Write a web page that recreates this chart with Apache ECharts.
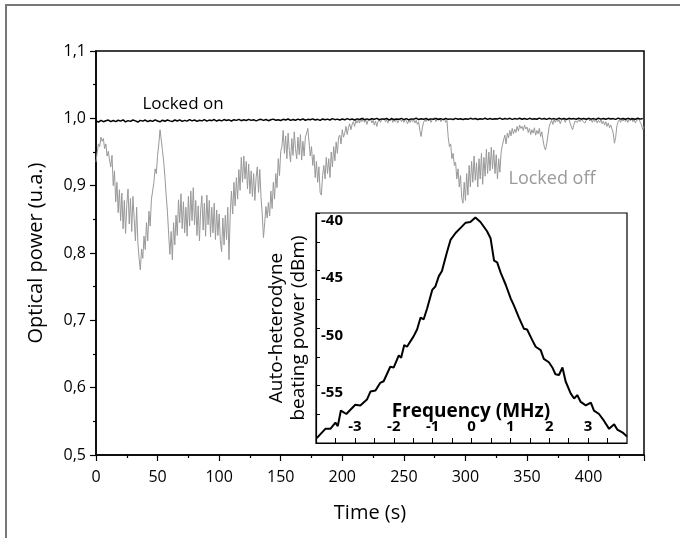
<!DOCTYPE html>
<html><head><meta charset="utf-8">
<script src="https://cdn.jsdelivr.net/npm/echarts@6/dist/echarts.min.js"></script>
<style>html,body{margin:0;padding:0;background:#fff}#c{width:680px;height:538px}</style>
</head><body><div id="c"></div>
<script>
const FONT = '"Open Sans", "Noto Sans", sans-serif';

// Main panel: optical power vs time (s)
const offStep = 1; // seconds between "Locked off" samples
const lockedOff = [
0.935,0.95,0.962,0.958,0.972,0.966,
0.97,0.955,0.962,0.944,0.951,0.938,
0.928,0.945,0.9,0.922,0.876,0.905,0.86,0.894,
0.848,0.889,0.836,0.878,0.829,0.872,0.895,0.843,0.881,0.832,0.884,0.851,0.818,0.868,
0.815,0.792,0.775,0.806,0.792,0.825,
0.805,0.845,0.818,0.862,0.84,0.88,
0.892,0.905,0.925,0.918,0.945,0.962,0.983,
0.968,0.952,0.935,0.912,0.885,0.862,
0.828,0.798,0.832,0.79,0.845,0.812,
0.856,0.826,0.879,0.845,0.888,0.836,
0.876,0.83,0.868,0.825,0.884,0.84,0.892,0.848,0.897,0.842,
0.878,0.826,0.87,0.818,0.864,0.885,0.834,0.874,0.825,0.886,
0.842,0.878,0.824,0.868,0.83,0.874,0.82,0.864,0.826,0.858,
0.818,0.802,0.852,0.812,0.856,0.82,0.868,0.79,
0.858,0.892,0.858,0.905,0.87,0.912,0.88,0.924,0.893,0.942,0.905,0.944,
0.91,0.936,0.895,0.932,0.888,0.922,0.884,0.918,0.878,0.912,0.928,0.89,0.924,0.882,
0.858,0.823,0.845,0.869,0.852,0.875,
0.855,0.892,0.866,0.905,0.88,0.918,0.897,0.94,0.915,0.951,
0.958,0.982,0.948,0.974,0.94,0.978,0.952,0.935,0.97,0.945,
0.98,0.955,0.94,0.972,0.946,0.976,0.938,0.966,0.944,0.972,0.978,0.985,
0.965,0.944,0.958,0.93,0.946,0.912,0.936,0.905,0.928,0.89,0.886,
0.915,0.93,0.91,0.942,0.918,0.94,0.912,0.95,0.928,0.958,0.937,0.965,0.948,0.972,
0.975,0.962,0.983,0.972,0.978,0.988,0.976,0.986,0.992,0.983,0.991,0.995,0.988,0.997,0.993,
0.998,0.993,0.999,0.995,1.001,0.994,0.998,0.991,0.997,0.995,
1.0,0.993,0.997,0.99,0.996,0.988,0.995,0.999,0.994,0.998,
0.996,1.0,0.995,0.998,0.993,0.999,0.996,1.001,0.994,0.998,
0.995,0.999,0.993,0.997,1.0,0.995,0.998,0.994,0.999,0.996,
0.992,0.997,0.994,0.999,0.995,0.998,0.993,0.997,0.991,0.995,
0.982,0.973,0.986,0.994,0.998,
0.995,0.999,0.996,1.0,0.994,0.998,0.996,1.001,0.995,0.999,0.997,1.0,0.995,0.998,0.996,0.999,0.994,0.997,
0.972,0.958,0.962,0.94,0.948,0.93,0.935,0.91,0.925,0.898,0.915,0.882,0.874,
0.905,0.878,0.918,0.886,0.93,0.898,0.936,0.905,0.944,0.908,0.934,0.898,0.94,0.91,0.948,0.902,
0.942,0.914,0.954,0.918,0.95,0.922,0.957,0.925,0.953,0.918,0.946,0.91,0.94,0.92,0.95,0.96,
0.968,0.975,0.962,0.978,0.971,0.982,0.974,0.985,0.977,0.984,0.979,0.988,0.981,0.99,0.985,
0.988,0.982,0.99,0.984,0.987,0.979,0.985,0.976,0.983,0.978,0.986,0.975,0.982,0.977,0.985,0.973,0.98,0.968,
0.958,0.953,0.962,0.975,0.988,
0.993,0.997,0.991,0.998,0.994,0.999,0.995,0.998,0.992,0.997,0.995,1.0,0.994,0.998,0.996,0.999,0.993,
0.987,0.983,0.99,0.996,
0.998,0.994,0.999,0.995,1.0,0.996,0.998,0.993,0.997,0.995,
1.0,0.996,0.999,0.994,0.998,0.995,0.999,0.993,0.997,0.994,
0.998,0.992,0.996,0.99,0.995,0.988,0.993,0.986,0.99,0.984,
0.978,0.963,0.972,0.989,0.995,
0.998,0.994,0.999,0.996,1.0,0.995,0.998,0.994,0.999,0.996,1.001,0.995,0.998,0.993,0.997,0.995,0.999,0.994,0.99,0.983,0.988
];
const onStep = 2; // seconds between "Locked on" samples
const lockedOn = [
0.996,0.9945,0.997,0.995,0.9965,0.9975,0.995,0.9968,0.9952,0.9972,
0.9958,0.9978,0.9948,0.9966,0.9955,0.9975,0.9962,0.9945,0.997,0.9958,
0.9975,0.995,0.9968,0.9955,0.9978,0.996,0.9948,0.9972,0.9957,0.9975,
0.9962,0.9952,0.9976,0.996,0.9978,0.9955,0.997,0.9958,0.998,0.9962,
0.9975,0.9955,0.9972,0.9962,0.998,0.9958,0.9974,0.9965,0.9982,0.996,
0.9975,0.9962,0.9982,0.9968,0.9978,0.996,0.998,0.997,0.9985,0.9965,
0.9978,0.9968,0.9985,0.997,0.998,0.9962,0.9978,0.9985,0.997,0.9982,
0.9965,0.9978,0.9988,0.9972,0.998,0.9968,0.9985,0.9975,0.999,0.997,
0.9982,0.9972,0.9988,0.9975,0.9992,0.9972,0.9985,0.9978,0.9992,0.9975,
0.9985,0.997,0.999,0.9978,0.9988,0.9975,0.9995,0.998,0.9988,0.9976,
0.999,0.9978,0.9995,0.998,0.999,0.9975,0.9992,0.9982,0.9998,0.998,
0.9992,0.9978,0.9995,0.9985,1.0,0.998,0.9992,0.9985,0.9998,0.9978,
0.9995,0.9982,0.999,0.9985,1.0,0.998,0.9995,0.9978,0.9992,0.9988,
1.0002,0.9982,0.9995,0.9985,0.9998,0.998,0.9992,0.9985,1.0,0.9982,
0.9995,0.998,0.9998,0.9985,0.9992,0.9982,1.0,0.9986,0.9995,0.9982,
0.9995,0.9985,1.0,0.9988,0.9998,0.9982,0.9995,0.9988,1.0002,0.9985,
0.9998,0.9985,0.9995,0.999,1.0003,0.9985,0.9998,0.9988,1.0,0.9984,
0.9996,0.9988,1.0002,0.9986,0.9998,0.9985,1.0,0.9988,0.9995,0.9986,
1.0003,0.9988,0.9998,0.9985,1.0,0.9988,0.9996,0.9984,1.0002,0.9988,
0.9998,0.9985,1.0,0.999,0.9996,0.9986,1.0003,0.9988,0.9998,0.9986,
1.0,0.9988,0.9996,0.9985,1.0002,0.9988,0.9998,0.9986,1.0,0.999,
0.9996,0.9985,1.0003,0.9988,0.9998,0.9986,1.0,0.9988,0.9995,0.9986,
1.0002,0.9988,0.9996
];

// Inset: auto-heterodyne beating power vs frequency
const freq = [-3.98,-3.76,-3.63,-3.5,-3.44,-3.36,-3.22,-2.99,-2.86,-2.69,-2.6,-2.47,-2.35,-2.26,-2.09,-2.0,-1.87,-1.81,-1.73,-1.66,-1.49,-1.4,-1.31,-1.23,-1.14,-1.01,-0.93,-0.84,-0.76,-0.63,-0.54,-0.41,-0.28,-0.15,-0.03,0.1,0.23,0.4,0.49,0.58,0.66,0.75,0.88,1.01,1.09,1.22,1.35,1.43,1.56,1.65,1.78,1.86,1.99,2.08,2.16,2.25,2.34,2.42,2.55,2.64,2.72,2.81,2.94,3.07,3.15,3.28,3.41,3.54,3.67,3.75,3.88,4.0];
const power = [-59.58,-58.77,-58.77,-58.23,-58.53,-57.18,-57.48,-56.67,-56.73,-56.22,-55.53,-55.44,-54.78,-54.63,-53.37,-53.43,-52.38,-52.59,-51.48,-51.63,-50.73,-50.13,-49.09,-49.24,-48.28,-46.69,-46.39,-45.49,-45.04,-43.39,-42.34,-41.74,-41.29,-40.84,-40.78,-40.39,-40.78,-41.59,-42.19,-44.14,-44.29,-45.19,-46.24,-47.44,-48.04,-49.09,-50.07,-50.13,-51.03,-51.63,-51.93,-52.68,-52.98,-53.43,-54.03,-54.09,-53.43,-54.63,-55.68,-56.13,-55.83,-56.43,-56.73,-56.49,-57.18,-57.48,-58.08,-58.77,-58.38,-58.83,-59.07,-59.43];

const mainXLabels = ['0','50','100','150','200','250','300','350','400'];
const insetXLabels = ['-3','-2','-1','0','1','2','3'];
const insetYLabels = ['-40','-45','-50','-55'];

const offData = lockedOff.map((v, i) => [i * offStep, v]);
const onData = lockedOn.map((v, i) => [i * onStep, v]);
const insetData = freq.map((f, i) => [f, power[i]]);

const chart = echarts.init(document.getElementById('c'), null, {renderer: 'canvas'});
const black = '#000';
chart.setOption({
  animation: false,
  backgroundColor: '#fff',
  textStyle: {fontFamily: FONT},
  grid: [
    {left: 96, top: 51, width: 548, height: 404, show: true, borderColor: black, borderWidth: 1.5, backgroundColor: 'transparent', z: 1},
    {left: 316, top: 213, width: 311, height: 230, show: true, borderColor: black, borderWidth: 1.2, backgroundColor: '#fff', z: 8}
  ],
  xAxis: [
    {gridIndex: 0, type: 'value', min: 0, max: 445, interval: 50,
     axisLine: {onZero: false, lineStyle: {color: black, width: 1.5}},
     axisTick: {inside: false, length: 6, lineStyle: {color: black, width: 1.2}},
     minorTick: {show: true, splitNumber: 2, length: 3, lineStyle: {color: black, width: 1.2}},
     splitLine: {show: false},
     axisLabel: {color: black, fontSize: 16, margin: 14, fontFamily: FONT, showMaxLabel: false,
       formatter: v => mainXLabels.includes(String(v)) ? String(v) : ''},
     name: 'Time (s)', nameLocation: 'middle', nameGap: 48,
     nameTextStyle: {color: black, fontSize: 20, fontFamily: FONT}},
    {gridIndex: 1, type: 'value', min: -4, max: 4, interval: 0.5, z: 10,
     axisLine: {onZero: false, lineStyle: {color: black, width: 1.2}},
     axisTick: {inside: true, length: 5, lineStyle: {color: black, width: 1}},
     splitLine: {show: false},
     axisLabel: {inside: true, color: black, fontSize: 15, fontWeight: 'bold', margin: 9, fontFamily: FONT,
       showMinLabel: false, showMaxLabel: false,
       formatter: v => insetXLabels.includes(String(v)) ? String(v) : ''}}
  ],
  yAxis: [
    {gridIndex: 0, type: 'value', min: 0.5, max: 1.1, interval: 0.1,
     axisLine: {onZero: false, lineStyle: {color: black, width: 1.5}},
     axisTick: {inside: false, length: 6, lineStyle: {color: black, width: 1.2}},
     minorTick: {show: true, splitNumber: 2, length: 3, lineStyle: {color: black, width: 1.2}},
     splitLine: {show: false},
     axisLabel: {color: black, fontSize: 16, margin: 10, fontFamily: FONT,
       formatter: v => v.toFixed(1).replace('.', ',')},
     name: 'Optical power (u.a.)', nameLocation: 'middle', nameGap: 50,
     nameTextStyle: {color: black, fontSize: 20, fontFamily: FONT}},
    {gridIndex: 1, type: 'value', min: -60, max: -40, interval: 2.5, z: 10,
     axisLine: {onZero: false, lineStyle: {color: black, width: 1.2}},
     axisTick: {inside: true, length: 4, lineStyle: {color: black, width: 1}},
     splitLine: {show: false},
     axisLabel: {inside: true, color: black, fontSize: 15, fontWeight: 'bold', margin: 5, verticalAlign: 'top', fontFamily: FONT,
       formatter: v => insetYLabels.includes(String(v)) ? String(v) : ''},
     name: 'Auto-heterodyne\nbeating power (dBm)', nameLocation: 'middle', nameGap: 6,
     nameTextStyle: {color: black, fontSize: 19, lineHeight: 22, fontFamily: FONT}}
  ],
  graphic: [
    {type: 'rect', silent: true, z: 0, shape: {x: 6, y: 5, width: 720, height: 620}, style: {fill: 'none', stroke: '#777', lineWidth: 2}},
    {type: 'text', silent: true, z: 20, x: 183, y: 104, style: {text: 'Locked on', fill: black, font: '17px ' + FONT, align: 'center', verticalAlign: 'middle'}},
    {type: 'text', silent: true, z: 20, x: 552, y: 179, style: {text: 'Locked off', fill: '#9a9a9a', font: '18px ' + FONT, align: 'center', verticalAlign: 'middle'}},
    {type: 'text', silent: true, z: 20, x: 471, y: 412, style: {text: 'Frequency (MHz)', fill: black, font: 'bold 19px ' + FONT, align: 'center', verticalAlign: 'middle'}}
  ],
  series: [
    {type: 'line', name: 'Locked off', xAxisIndex: 0, yAxisIndex: 0, data: offData, showSymbol: false, z: 2,
     lineStyle: {color: '#999', width: 1}},
    {type: 'line', name: 'Locked on', xAxisIndex: 0, yAxisIndex: 0, data: onData, showSymbol: false, z: 3,
     lineStyle: {color: black, width: 1.5}},
    {type: 'line', name: 'Beating', xAxisIndex: 1, yAxisIndex: 1, data: insetData, showSymbol: false, z: 11,
     lineStyle: {color: black, width: 2}}
  ]
});
</script>
</body></html>
